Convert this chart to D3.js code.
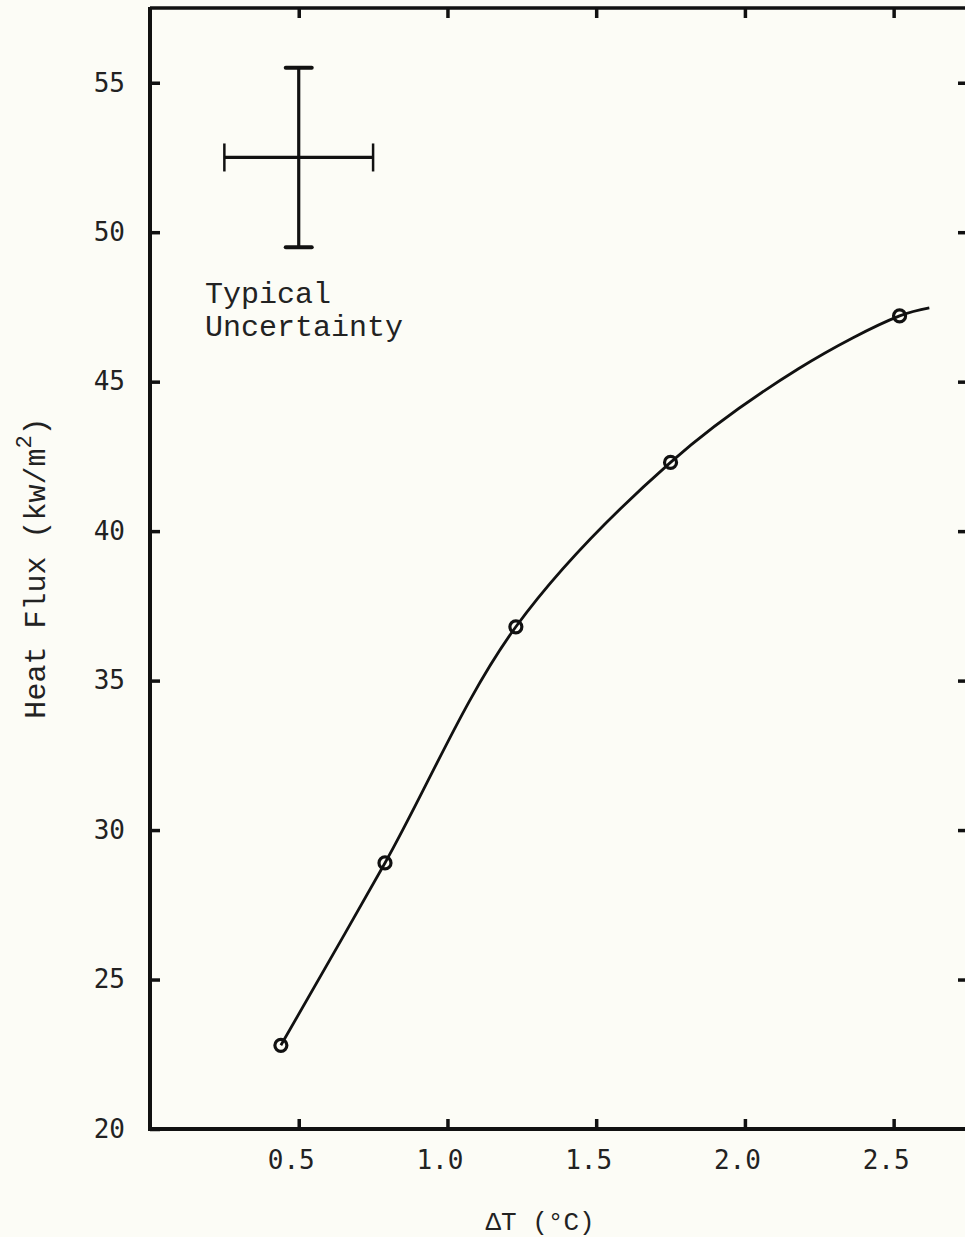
<!DOCTYPE html>
<html>
<head>
<meta charset="utf-8">
<script src="https://cdn.jsdelivr.net/npm/d3@7"></script>
<style>
  html, body { margin: 0; padding: 0; background: #fcfcf6; }
  svg { display: block; }
</style>
</head>
<body>
<svg id="chart"></svg>
<script>
// measured points
const deltaT = [0.44, 0.79, 1.23, 1.75, 2.52];
const heatFlux = [22.8, 28.9, 36.8, 42.3, 47.2];

// hand drawn curve (runs a bit past the last point)
const curveT = [0.44, 0.79, 1.23, 1.75, 2.18, 2.52, 2.62];
const curveQ = [22.8, 28.9, 36.8, 42.3, 45.43, 47.2, 47.47];

// typical uncertainty cross
const errCenter = [0.5, 52.5];
const errT = 0.25;
const errQ = 3.0;

const xTicks = [0.5, 1.0, 1.5, 2.0, 2.5];
const yTicks = [20, 25, 30, 35, 40, 45, 50, 55];

const width = 965, height = 1237;
const plotLeft = 150, plotRight = 968, plotTop = 8, plotBottom = 1129;

const svg = d3.select("#chart")
    .attr("width", width)
    .attr("height", height);

const x = d3.scaleLinear().domain([0, 2.75]).range([plotLeft, plotRight]);
const y = d3.scaleLinear().domain([20, 57.5]).range([plotBottom, plotTop]);

const tickFont = "'DejaVu Sans Mono', monospace";
const typeFont = "'Liberation Mono', 'Courier New', monospace";

// axes (ticks point inward)
const gx = svg.append("g")
    .attr("transform", `translate(0,${plotBottom})`)
    .call(d3.axisBottom(x).tickValues(xTicks).tickFormat(d3.format(".1f"))
        .tickSizeInner(-10).tickSizeOuter(0).tickPadding(22));

const gxTop = svg.append("g")
    .attr("transform", `translate(0,${plotTop})`)
    .call(d3.axisTop(x).tickValues(xTicks).tickFormat("")
        .tickSizeInner(-10).tickSizeOuter(0));

const gy = svg.append("g")
    .attr("transform", `translate(${plotLeft},0)`)
    .call(d3.axisLeft(y).tickValues(yTicks).tickFormat(d3.format("d"))
        .tickSizeInner(-10).tickSizeOuter(0).tickPadding(25));

const gyRight = svg.append("g")
    .attr("transform", `translate(${plotRight},0)`)
    .call(d3.axisRight(y).tickValues(yTicks.slice(1)).tickFormat("")
        .tickSizeInner(-10).tickSizeOuter(0));

[gx, gxTop, gy, gyRight].forEach(g => {
    g.select(".domain").remove();
    g.selectAll(".tick line").attr("stroke", "#111").attr("stroke-width", 3.5);
    g.selectAll("text")
        .attr("fill", "#222")
        .style("font-family", tickFont)
        .style("font-size", "26px");
});
gx.selectAll("text").attr("dx", -8);

// frame
svg.append("line").attr("x1", plotLeft).attr("x2", plotLeft).attr("y1", plotTop - 1).attr("y2", plotBottom + 2)
    .attr("stroke", "#111").attr("stroke-width", 4);
svg.append("line").attr("x1", plotLeft).attr("x2", plotRight).attr("y1", plotBottom).attr("y2", plotBottom)
    .attr("stroke", "#111").attr("stroke-width", 4);
svg.append("line").attr("x1", plotLeft).attr("x2", plotRight).attr("y1", plotTop).attr("y2", plotTop)
    .attr("stroke", "#111").attr("stroke-width", 3.5);
svg.append("line").attr("x1", plotRight).attr("x2", plotRight).attr("y1", plotTop).attr("y2", plotBottom)
    .attr("stroke", "#111").attr("stroke-width", 3);

// curve
const curvePts = curveT.map((t, i) => [t, curveQ[i]]);
svg.append("path")
    .datum(curvePts)
    .attr("fill", "none")
    .attr("stroke", "#111")
    .attr("stroke-width", 2.8)
    .attr("d", d3.line().x(d => x(d[0])).y(d => y(d[1])).curve(d3.curveCatmullRom.alpha(0.5)));

// data points
svg.selectAll("circle.pt")
    .data(deltaT.map((t, i) => ({t: t, q: heatFlux[i]})))
    .join("circle")
    .attr("class", "pt")
    .attr("cx", d => x(d.t))
    .attr("cy", d => y(d.q))
    .attr("r", 6)
    .attr("fill", "none")
    .attr("stroke", "#111")
    .attr("stroke-width", 3.2);

// uncertainty cross
const cx = x(errCenter[0]), cy = y(errCenter[1]);
const err = svg.append("g").attr("stroke", "#111");
err.append("line")
    .attr("x1", cx).attr("x2", cx)
    .attr("y1", y(errCenter[1] + errQ)).attr("y2", y(errCenter[1] - errQ))
    .attr("stroke-width", 3.2);
[errCenter[1] + errQ, errCenter[1] - errQ].forEach(v => {
    err.append("line")
        .attr("x1", cx - 13).attr("x2", cx + 13)
        .attr("y1", y(v)).attr("y2", y(v))
        .attr("stroke-width", 4)
        .attr("stroke-linecap", "round");
});
err.append("line")
    .attr("x1", x(errCenter[0] - errT)).attr("x2", x(errCenter[0] + errT))
    .attr("y1", cy).attr("y2", cy)
    .attr("stroke-width", 3.2);
[errCenter[0] - errT, errCenter[0] + errT].forEach(v => {
    err.append("line")
        .attr("x1", x(v)).attr("x2", x(v))
        .attr("y1", cy - 14).attr("y2", cy + 14)
        .attr("stroke-width", 2.5);
});

const note = svg.append("text")
    .attr("x", 205)
    .attr("fill", "#222")
    .style("font-family", typeFont)
    .style("font-size", "30px");
note.append("tspan").attr("x", 205).attr("y", 303).text("Typical");
note.append("tspan").attr("x", 205).attr("y", 336).text("Uncertainty");

// axis titles
svg.append("text")
    .attr("x", 540)
    .attr("y", 1230)
    .attr("text-anchor", "middle")
    .attr("fill", "#222")
    .style("font-family", typeFont)
    .style("font-size", "26px")
    .text("\u0394T (\u00B0C)");

const yTitle = svg.append("text")
    .attr("transform", "translate(45,568) rotate(-90)")
    .attr("text-anchor", "middle")
    .attr("fill", "#222")
    .style("font-family", typeFont)
    .style("font-size", "30px");
yTitle.append("tspan").text("Heat Flux (kw/m");
yTitle.append("tspan").attr("dy", -14).style("font-size", "22px").text("2");
yTitle.append("tspan").attr("dy", 14).text(")");
</script>
</body>
</html>
